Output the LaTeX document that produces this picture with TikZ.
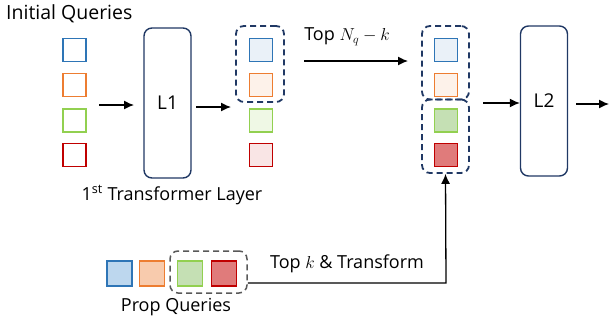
\documentclass[tikz,border=0pt]{standalone}
\usepackage{fontspec}
\setmainfont{Open Sans}
\usetikzlibrary{arrows.meta,positioning,fit}
\definecolor{qblue}{HTML}{2E75B6}
\definecolor{qorange}{HTML}{ED7D31}
\definecolor{qgreen}{HTML}{92D050}
\definecolor{qred}{HTML}{C00000}
\definecolor{navy}{HTML}{203864}
\definecolor{fblue}{HTML}{BDD7EE}
\definecolor{forange}{HTML}{F8CBAD}
\definecolor{fgreen}{HTML}{C5E0B4}
\definecolor{fred}{HTML}{E07B7B}
\tikzset{
  sq/.style={draw=#1, line width=1.4pt, minimum size=23pt, inner sep=0pt},
  layer/.style={draw=navy, line width=1.4pt, rounded corners=8pt, minimum width=47pt, minimum height=150pt, inner sep=0pt, font=\fontsize{19}{22}\selectfont},
  grp/.style={draw=navy, line width=1.8pt, dash pattern=on 6pt off 4pt, rounded corners=8pt},
  grpgray/.style={draw=black!65, line width=1.5pt, dash pattern=on 6pt off 4pt, rounded corners=8pt},
  arr/.style={-{Latex[length=10pt,width=9pt]}, line width=1.3pt},
  lbl/.style={font=\fontsize{18}{21}\selectfont, inner sep=0pt},
}
\begin{document}
\begin{tikzpicture}[x=1pt,y=-1pt]
\useasboundingbox (0,0) rectangle (609,327);
% initial queries
\node[lbl, font=\fontsize{19.5}{22}\selectfont, anchor=west] (title) at (6,14) {Initial Queries};
\node[sq=qblue] (a1) at (74.5,50) {};
\node[sq=qorange] (a2) at (74.5,85) {};
\node[sq=qgreen] (a3) at (74.5,120.5) {};
\node[sq=qred] (a4) at (74.5,155) {};
% L1
\node[layer] (L1) at (167.5,103) {L1};
\coordinate (a1s) at (99,105);
\coordinate (a1e) at (134,105);
\draw[arr] (a1s) -- (a1e);
\node[lbl] (l1lbl) at (172,195) {1\textsuperscript{st} Transformer Layer};
% middle column
\node[sq=qblue, fill=qblue!10] (b1) at (261,50) {};
\node[sq=qorange, fill=qorange!10] (b2) at (261,85) {};
\node[sq=qgreen, fill=qgreen!15] (b3) at (261,120.5) {};
\node[sq=qred, fill=qred!10] (b4) at (261,155) {};
\coordinate (a2s) at (196,107);
\coordinate (a2e) at (231,107);
\draw[arr] (a2s) -- (a2e);
\node[grp, fit={(236,26) (284,102)}, inner sep=0pt] (g1) {};
% top Nq-k
\node[lbl] (topn) at (347,37) {Top $N_q-k$};
\coordinate (a3s) at (304,61);
\coordinate (a3e) at (408,61);
\draw[arr] (a3s) -- (a3e);
% right column
\node[sq=qblue, fill=qblue!10] (c1) at (446,50) {};
\node[sq=qorange, fill=qorange!10] (c2) at (446,85) {};
\node[sq=qgreen, fill=fgreen] (c3) at (446,120.5) {};
\node[sq=qred, fill=fred] (c4) at (446,155) {};
\node[grp, fit={(422,26) (469,99.5)}, inner sep=0pt] (g2) {};
\node[grp, fit={(422,99.5) (469,173)}, inner sep=0pt] (g3) {};
% L2
\node[layer] (L2) at (544,101) {L2};
\coordinate (a4s) at (483,103);
\draw[arr] (a4s) -- (L2.west |- a4s);
\coordinate (a5e) at (609,104);
\draw[arr] (L2.east |- a5e) ++(8,0) -- (a5e);
% prop queries
\node[sq=qblue, fill=fblue, minimum size=25pt] (p1) at (119.5,273.5) {};
\node[sq=qorange, fill=forange, minimum size=25pt] (p2) at (152,273.5) {};
\node[sq=qgreen, fill=fgreen, minimum size=25pt] (p3) at (190,273.5) {};
\node[sq=qred, fill=fred, minimum size=25pt] (p4) at (224,273.5) {};
\node[grpgray, fit={(170,251) (247,293)}, inner sep=0pt] (g4) {};
\node[lbl] (plbl) at (176,307) {Prop Queries};
\node[lbl] (topk) at (347,264) {Top $k$ \& Transform};
\coordinate (bend) at (446,283);
\draw[arr] (g4.east |- bend) -- (bend) -- (g3.south);
\end{tikzpicture}
\end{document}
